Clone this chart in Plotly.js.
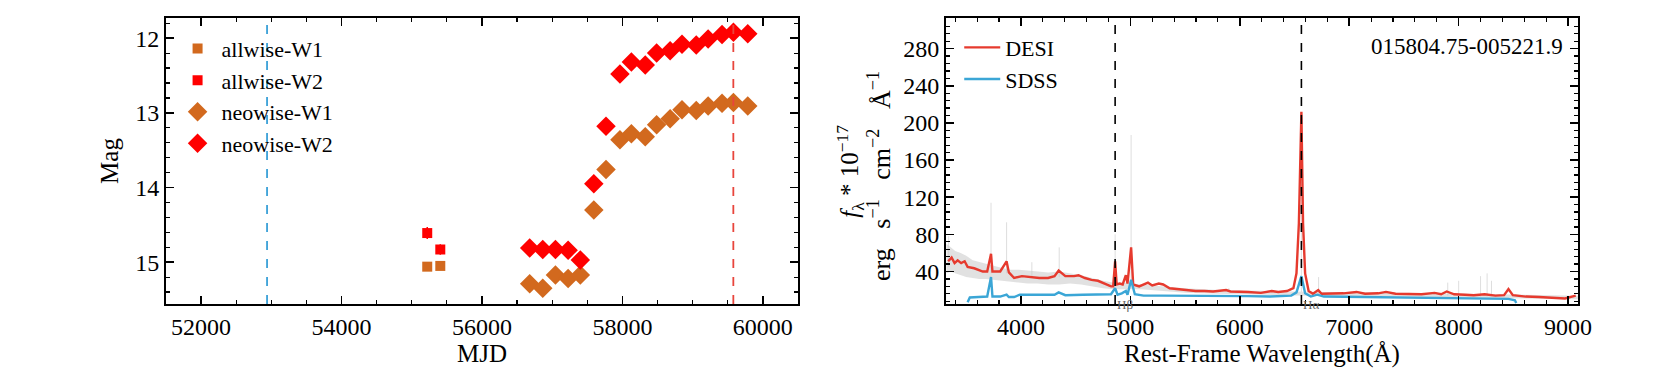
<!DOCTYPE html>
<html>
<head>
<meta charset="utf-8">
<script src="https://cdn.plot.ly/plotly-3.0.1.min.js"></script>
<style>
  html, body { margin: 0; padding: 0; background: #fff; }
  #chart { width: 1661px; height: 380px; }
</style>
</head>
<body>
<div id="chart"></div>
<script>
// ---------------- light curve (left panel) ----------------
var allwise_mjd = [55221, 55407];
var allwise_w1 = [15.06, 15.05];
var allwise_w1_err = [0.03, 0.03];
var allwise_w2 = [14.61, 14.83];
var allwise_w2_err = [0.08, 0.07];

var neowise_mjd = [56680, 56866, 57047, 57227, 57401, 57593, 57767, 57965, 58128,
                   58326, 58488, 58680, 58849, 59052, 59221, 59419, 59581, 59785];
var neowise_w1 = [15.29, 15.35, 15.17, 15.22, 15.17, 14.30, 13.76, 13.36, 13.28,
                  13.32, 13.16, 13.08, 12.96, 12.97, 12.91, 12.87, 12.86, 12.91];
var neowise_w1_err = [0.03, 0.03, 0.03, 0.03, 0.03, 0.02, 0.02, 0.02, 0.02,
                      0.02, 0.02, 0.02, 0.02, 0.02, 0.02, 0.02, 0.02, 0.02];
var neowise_w2 = [14.81, 14.83, 14.83, 14.84, 14.97, 13.95, 13.18, 12.48, 12.32,
                  12.36, 12.20, 12.17, 12.08, 12.09, 12.01, 11.95, 11.92, 11.94];
var neowise_w2_err = [0.05, 0.06, 0.05, 0.05, 0.05, 0.03, 0.03, 0.02, 0.02,
                      0.02, 0.02, 0.02, 0.02, 0.02, 0.02, 0.02, 0.02, 0.02];

var sdss_epoch = 52940;   // blue dashed line
var desi_epoch = 59580;   // red dashed line

// ---------------- spectra (right panel) ----------------
var desi_wave = [3335, 3367, 3394, 3422, 3454, 3486, 3513, 3573, 3652, 3692, 3727, 3740,
                 3811, 3869, 3890, 3938, 4010, 4089, 4168, 4248, 4307, 4345, 4406, 4486,
                 4526, 4585, 4645, 4704, 4764, 4823, 4843, 4861, 4875, 4903, 4930, 4959,
                 4974, 5007, 5026, 5081, 5161, 5200, 5260, 5300, 5359, 5438, 5518, 5597,
                 5677, 5756, 5875, 5915, 6074, 6193, 6292, 6351, 6431, 6490, 6518, 6540,
                 6563, 6578, 6597, 6629, 6669, 6717, 6748, 6867, 6947, 7066, 7145, 7264,
                 7336, 7423, 7542, 7661, 7780, 7840, 7891, 7959, 8058, 8137, 8237, 8336,
                 8415, 8455, 8495, 8614, 8733, 8852, 8971, 9070];
var desi_flux = [51, 55, 49, 52, 49, 51, 45, 43.5, 40, 40, 59, 40,
                 40, 51, 39, 33, 35, 34, 33, 33, 35, 41, 35, 35,
                 36, 33, 31, 30, 27, 24, 24, 51, 26, 27, 26, 36,
                 27, 66, 26, 24, 28, 25, 27, 26, 22, 21, 20, 19,
                 19, 18.5, 20, 18.5, 18, 17, 19, 18, 19, 22, 38, 92,
                 212, 92, 38, 19, 16, 20, 16, 16, 16.5, 18, 16, 16.5,
                 18, 16, 15.5, 15.5, 17, 15.5, 18.5, 15.5, 15, 14.5, 15.5, 14,
                 14.5, 21, 14.5, 13, 12.5, 12, 11, 14];

var sdss_wave = [3513, 3533, 3613, 3692, 3727, 3740, 3811, 3869, 3890, 3938, 3990, 4089,
                 4208, 4307, 4345, 4406, 4565, 4724, 4823, 4861, 4883, 4922, 4959, 4974,
                 5007, 5041, 5121, 5280, 5478, 5677, 5875, 6074, 6272, 6470, 6518, 6540,
                 6563, 6578, 6597, 6649, 6708, 6768, 7066, 7264, 7463, 7661, 8058, 8375,
                 8455, 8514, 8526];
var sdss_flux = [7, 12, 12.5, 13, 34, 13, 13, 15, 12.5, 12.5, 15, 15,
                 14.5, 15, 17.5, 14.5, 15, 15, 15.5, 22, 15, 16.5, 19, 15,
                 31, 15.5, 14, 14, 14, 14, 13.5, 13.5, 13, 14, 17.5, 27,
                 35, 27, 16.5, 13, 15, 13, 12.5, 12.5, 12.5, 12, 11.5, 11,
                 10.5, 9, 6];

// raw (unsmoothed) DESI spectrum: envelope and the tallest spikes
var raw_wave = [3320, 3360, 3400, 3450, 3500, 3560, 3620, 3680, 3760, 3820, 3900, 3980,
                4060, 4150, 4250, 4350, 4450, 4550, 4650, 4750, 4850, 4950, 5100, 5300,
                5500, 5800, 6200, 6500, 6700, 7000, 7500, 8000, 8500, 9090];
var raw_upper = [70, 66, 62, 60, 57, 52, 50, 48, 46, 44, 42, 42,
                 41, 40, 39, 40, 38, 36, 33, 30, 28, 28, 26, 24,
                 22, 20, 19, 19, 18, 18, 17, 16, 15, 14];
var raw_lower = [38, 40, 38, 36, 34, 33, 32, 32, 31, 30, 29, 28,
                 27, 27, 26, 26, 27, 26, 24, 22, 21, 21, 21, 19,
                 17, 16, 15, 15, 14, 13, 13, 12, 11, 10];
var spike_wave = [3340, 3727, 3869, 4100, 4350, 4861, 5007, 5900, 6563, 6720, 7900, 8000, 8200, 8260, 8300];
var spike_top = [78, 114, 93, 50, 66, 80, 187, 22, 150, 34, 28, 30, 35, 38, 30];
var spike_base = [45, 38, 38, 34, 34, 24, 25, 18, 18, 15, 14, 14, 13, 13, 13];

var hbeta = 4861;
var halpha = 6563;
var object_name = '015804.75-005221.9';
var flux_label_1 = '<i>f</i><sub>λ</sub> * 10<sup>−17</sup>';
var flux_label_2 = 'erg&nbsp;&nbsp; s<sup>−1</sup>&nbsp;&nbsp; cm<sup>−2</sup>&nbsp;&nbsp; Å<sup>−1</sup>';

// ---------------- style ----------------
var FONT = 'Liberation Serif, DejaVu Serif, serif';
var ORANGE = '#d2691e';
var RED = '#ff0000';
var DESI_RED = '#e63a2e';
var SDSS_BLUE = '#3ba6d6';

function frame_axis(extra) {
	var ax = {
		showline: true, linecolor: 'black', linewidth: 2,
		mirror: 'allticks', ticks: 'inside', ticklen: 8, tickwidth: 1.6,
		tickcolor: 'black', showgrid: false, zeroline: false, tickformat: 'd',
		tickfont: {family: FONT, size: 24, color: 'black'}
	};
	for (var k in extra) ax[k] = extra[k];
	return ax;
}

function minor_ticks(step) {
	return {ticks: 'inside', ticklen: 4, tickwidth: 1.2, tickcolor: 'black', dtick: step, showgrid: false};
}

// Builds a spike trace from the spike arrays (null between segments)
function spike_trace() {
	var x = [], y = [];
	for (var i = 0; i < spike_wave.length; i++) {
		x.push(spike_wave[i], spike_wave[i], null);
		y.push(spike_base[i], spike_top[i], null);
	}
	return {x: x, y: y, xaxis: 'x2', yaxis: 'y2', mode: 'lines', showlegend: false,
		line: {color: 'rgba(200,200,200,0.6)', width: 1}, hoverinfo: 'skip'};
}

var data = [
	{x: allwise_mjd, y: allwise_w1, name: 'allwise-W1', mode: 'markers', legend: 'legend',
	 error_y: {type: 'data', array: allwise_w1_err, color: ORANGE, thickness: 1.5, width: 0},
	 marker: {symbol: 'square', size: 10, color: ORANGE}},
	{x: allwise_mjd, y: allwise_w2, name: 'allwise-W2', mode: 'markers', legend: 'legend',
	 error_y: {type: 'data', array: allwise_w2_err, color: RED, thickness: 1.5, width: 0},
	 marker: {symbol: 'square', size: 10, color: RED}},
	{x: neowise_mjd, y: neowise_w1, name: 'neowise-W1', mode: 'markers', legend: 'legend',
	 error_y: {type: 'data', array: neowise_w1_err, color: ORANGE, thickness: 1.5, width: 0},
	 marker: {symbol: 'diamond', size: 15, color: ORANGE}},
	{x: neowise_mjd, y: neowise_w2, name: 'neowise-W2', mode: 'markers', legend: 'legend',
	 error_y: {type: 'data', array: neowise_w2_err, color: RED, thickness: 1.5, width: 0},
	 marker: {symbol: 'diamond', size: 15, color: RED}},

	{x: raw_wave, y: raw_lower, xaxis: 'x2', yaxis: 'y2', mode: 'lines', showlegend: false,
	 line: {width: 0}, hoverinfo: 'skip'},
	{x: raw_wave, y: raw_upper, xaxis: 'x2', yaxis: 'y2', mode: 'lines', showlegend: false,
	 fill: 'tonexty', fillcolor: 'rgba(200,200,200,0.55)', line: {width: 0}, hoverinfo: 'skip'},
	spike_trace(),
	{x: desi_wave, y: desi_flux, xaxis: 'x2', yaxis: 'y2', mode: 'lines', name: 'DESI',
	 legend: 'legend2', line: {color: DESI_RED, width: 2.4}},
	{x: sdss_wave, y: sdss_flux, xaxis: 'x2', yaxis: 'y2', mode: 'lines', name: 'SDSS',
	 legend: 'legend2', line: {color: SDSS_BLUE, width: 2.4}}
];

var layout = {
	width: 1661, height: 380,
	margin: {l: 0, r: 0, t: 0, b: 0},
	paper_bgcolor: 'white', plot_bgcolor: 'white',
	font: {family: FONT, color: 'black'},
	xaxis: frame_axis({domain: [0.0999, 0.4804], range: [51500, 60500], dtick: 2000,
		minor: minor_ticks(500),
		title: {text: 'MJD', font: {family: FONT, size: 25}, standoff: 6}, anchor: 'y'}),
	yaxis: frame_axis({domain: [0.2, 0.9526], range: [15.56, 11.73], dtick: 1,
		minor: minor_ticks(0.2),
		title: {text: 'Mag', font: {family: FONT, size: 25}, standoff: 9}, anchor: 'x'}),
	xaxis2: frame_axis({domain: [0.5695, 0.95], range: [3315, 9090], dtick: 1000,
		minor: minor_ticks(200),
		title: {text: 'Rest-Frame Wavelength(Å)', font: {family: FONT, size: 25}, standoff: 6}, anchor: 'y2'}),
	yaxis2: frame_axis({domain: [0.2, 0.9526], range: [5, 313], tick0: 0, dtick: 40,
		minor: minor_ticks(8), anchor: 'x2'}),
	legend: {x: 0.1045, y: 0.927, xanchor: 'left', yanchor: 'top', bgcolor: 'rgba(0,0,0,0)',
		traceorder: 'normal', font: {family: FONT, size: 22}, tracegroupgap: 0, itemwidth: 38},
	legend2: {x: 0.5775, y: 0.93, xanchor: 'left', yanchor: 'top', bgcolor: 'rgba(0,0,0,0)',
		traceorder: 'normal', font: {family: FONT, size: 22}, tracegroupgap: 0, itemwidth: 36},
	shapes: [
		{type: 'line', xref: 'x', yref: 'y domain', x0: sdss_epoch, x1: sdss_epoch, y0: 0, y1: 1,
		 line: {color: '#3aa0d8', width: 1.8, dash: 'dash'}},
		{type: 'line', xref: 'x', yref: 'y domain', x0: desi_epoch, x1: desi_epoch, y0: 0, y1: 1,
		 line: {color: '#e8453c', width: 1.8, dash: 'dash'}},
		{type: 'line', xref: 'x2', yref: 'y2 domain', x0: hbeta, x1: hbeta, y0: 0, y1: 1,
		 line: {color: 'black', width: 1.6, dash: 'dash'}},
		{type: 'line', xref: 'x2', yref: 'y2 domain', x0: halpha, x1: halpha, y0: 0, y1: 1,
		 line: {color: 'black', width: 1.6, dash: 'dash'}}
	],
	annotations: [
		{xref: 'x2 domain', yref: 'y2 domain', x: 0.979, y: 0.9, xanchor: 'right', yanchor: 'middle',
		 text: object_name, showarrow: false, font: {family: FONT, size: 23, color: 'black'}},
		{xref: 'x2', yref: 'y2 domain', x: hbeta, y: 0, xanchor: 'left', yanchor: 'middle',
		 text: 'Hβ', showarrow: false, font: {family: FONT, size: 13, color: '#666'}},
		{xref: 'x2', yref: 'y2 domain', x: halpha, y: 0, xanchor: 'left', yanchor: 'middle',
		 text: 'Hα', showarrow: false, font: {family: FONT, size: 13, color: '#666'}},
		// two-line flux label, drawn as rotated texts for tight line spacing
		{xref: 'paper', yref: 'paper', x: 0.5116, y: 0.55, xanchor: 'center', yanchor: 'middle',
		 textangle: -90, text: flux_label_1, showarrow: false, font: {family: FONT, size: 25, color: 'black'}},
		{xref: 'paper', yref: 'paper', x: 0.5298, y: 0.537, xanchor: 'center', yanchor: 'middle',
		 textangle: -90, text: flux_label_2, showarrow: false, font: {family: FONT, size: 26, color: 'black'}}
	]
};

Plotly.newPlot('chart', data, layout, {displayModeBar: false, staticPlot: true});
</script>
</body>
</html>
